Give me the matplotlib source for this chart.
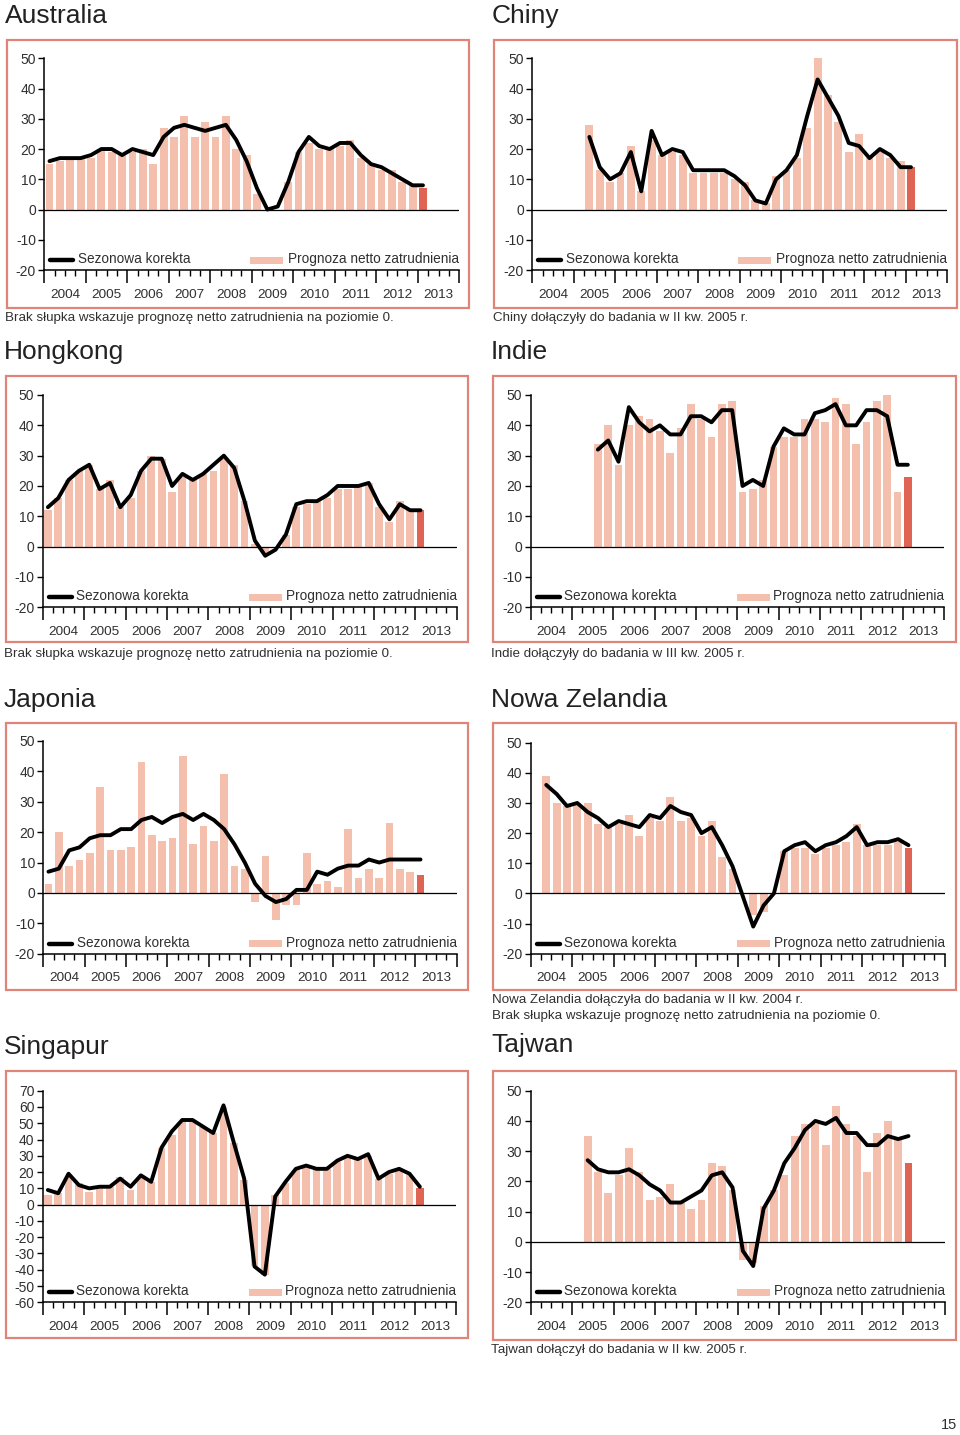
import matplotlib
matplotlib.use('Agg')
import matplotlib.pyplot as plt
import numpy as np
from matplotlib.patches import Rectangle
from matplotlib.lines import Line2D

plt.rcParams['font.family'] = ['Liberation Sans', 'DejaVu Sans']

W, H = 960, 1435
nan = np.nan

years = ['2004', '2005', '2006', '2007', '2008', '2009', '2010', '2011', '2012', '2013']
legend_line = 'Sezonowa korekta'
legend_bar = 'Prognoza netto zatrudnienia'
note_zero = 'Brak słupka wskazuje prognozę netto zatrudnienia na poziomie 0.'

# Quarterly values 2004 Q1 .. 2013 Q1 (37 quarters); nan = not yet surveyed
australia_bars = [15, 16, 17, 17, 17, 20, 19, 18, 19, 20, 15, 27, 24, 31, 24, 29, 24, 31, 20, 18,
                  5, 0, 0, 9, 19, 22, 20, 20, 21, 23, 17, 15, 13, 13, 9, 8, 7]
australia_line = [16, 17, 17, 17, 18, 20, 20, 18, 20, 19, 18, 24, 27, 28, 27, 26, 27, 28, 23, 16,
                  7, 0, 1, 9, 19, 24, 21, 20, 22, 22, 18, 15, 14, 12, 10, 8, 8]

chiny_bars = [nan] * 5 + [28, 13, 9, 12, 21, 6, 23, 18, 19, 18, 12, 12, 12, 12, 10, 9, 3, 2, 11, 13,
                          17, 27, 51, 38, 29, 19, 25, 17, 19, 17, 16, 14]
chiny_line = [nan] * 5 + [24, 14, 10, 12, 19, 6, 26, 18, 20, 19, 13, 13, 13, 13, 11, 8, 3, 2, 10, 13,
                          18, 31, 43, 37, 31, 22, 21, 17, 20, 18, 14, 14]

hongkong_bars = [12, 16, 22, 25, 27, 19, 22, 13, 16, 25, 30, 29, 18, 23, 22, 24, 25, 29, 27, 15,
                 1, -2, 0, 4, 13, 14, 15, 16, 19, 19, 20, 21, 13, 8, 15, 12, 12]
hongkong_line = [13, 16, 22, 25, 27, 19, 21, 13, 17, 25, 29, 29, 20, 24, 22, 24, 27, 30, 26, 15,
                 2, -3, -1, 4, 14, 15, 15, 17, 20, 20, 20, 21, 14, 9, 14, 12, 12]

indie_bars = [nan] * 6 + [34, 40, 27, 40, 43, 42, 38, 31, 39, 47, 42, 36, 47, 48, 18, 19, 22, 33, 36,
                          36, 42, 42, 41, 49, 47, 34, 41, 48, 53, 18, 23]
indie_line = [nan] * 6 + [32, 35, 28, 46, 41, 38, 40, 37, 37, 43, 43, 41, 45, 45, 20, 22, 20, 33, 39,
                          37, 37, 44, 45, 47, 40, 40, 45, 45, 43, 27, 27]

japonia_bars = [3, 20, 9, 11, 13, 35, 14, 14, 15, 43, 19, 17, 18, 45, 16, 22, 17, 39, 9, 8,
                -3, 12, -9, -4, -4, 13, 3, 4, 2, 21, 5, 8, 5, 23, 8, 7, 6]
japonia_line = [7, 8, 14, 15, 18, 19, 19, 21, 21, 24, 25, 23, 25, 26, 24, 26, 24, 21, 16, 10,
                3, -1, -3, -2, 1, 1, 7, 6, 8, 9, 9, 11, 10, 11, 11, 11, 11]

nz_bars = [nan] + [39, 30, 29, 30, 30, 23, 22, 23, 26, 19, 25, 24, 32, 24, 25, 19, 24, 12, 8,
                   0, -7, -6, 0, 14, 15, 15, 13, 15, 16, 17, 23, 16, 16, 16, 17, 15]
nz_line = [nan] + [36, 33, 29, 30, 27, 25, 22, 24, 23, 22, 26, 25, 29, 27, 26, 20, 22, 16, 9,
                   -1, -11, -4, 0, 14, 16, 17, 14, 16, 17, 19, 22, 16, 17, 17, 18, 16]

singapur_bars = [6, 7, 17, 13, 8, 10, 11, 17, 9, 17, 14, 35, 43, 51, 51, 48, 44, 60, 38, 15,
                 -38, -43, 6, 13, 21, 23, 21, 22, 26, 29, 28, 30, 16, 19, 21, 18, 10]
singapur_line = [9, 7, 19, 12, 10, 11, 11, 16, 11, 18, 14, 35, 45, 52, 52, 48, 44, 61, 38, 16,
                 -38, -43, 5, 14, 22, 24, 22, 22, 27, 30, 28, 31, 16, 20, 22, 19, 11]

tajwan_bars = [nan] * 5 + [35, 23, 16, 22, 31, 23, 14, 15, 19, 13, 11, 14, 26, 25, 17, -6, -7, 12,
                           17, 22, 35, 39, 39, 32, 45, 39, 35, 23, 36, 40, 34, 26]
tajwan_line = [nan] * 5 + [27, 24, 23, 23, 24, 22, 19, 17, 13, 13, 15, 17, 22, 23, 18, -3, -8, 11,
                           17, 26, 31, 37, 40, 39, 41, 36, 36, 32, 32, 35, 34, 35]

yt_std = [-20, -10, 0, 10, 20, 30, 40, 50]
yt_sg = [-60, -50, -40, -30, -20, -10, 0, 10, 20, 30, 40, 50, 60, 70]

PINK = '#f5bfae'
RED = '#e06453'
BOX = '#de8478'
TXT = '#303030'

fig = plt.figure(figsize=(W / 100, H / 100), dpi=100)


def fx(x):
    return x / W


def fy(y):
    return 1 - y / H


panels = [
    dict(title='Australia', txy=(5, 16), box=(7, 40, 469, 308), ax=(44.3, 459.3, 58.3, 270),
         yt=yt_std, bars=australia_bars, line=australia_line, notes=[(5, 318, note_zero)]),
    dict(title='Chiny', txy=(492, 16), box=(494, 40, 957, 308), ax=(532.3, 947.3, 58.3, 270),
         yt=yt_std, bars=chiny_bars, line=chiny_line,
         notes=[(493, 318, 'Chiny dołączyły do badania w II kw. 2005 r.')]),
    dict(title='Hongkong', txy=(4, 352), box=(6, 376, 468, 642), ax=(42.7, 456.7, 395, 607.3),
         yt=yt_std, bars=hongkong_bars, line=hongkong_line, notes=[(4, 654, note_zero)]),
    dict(title='Indie', txy=(491, 352), box=(493, 376, 956, 642), ax=(530.7, 944.0, 395, 607.3),
         yt=yt_std, bars=indie_bars, line=indie_line,
         notes=[(491, 654, 'Indie dołączyły do badania w III kw. 2005 r.')]),
    dict(title='Japonia', txy=(4, 700), box=(6, 723, 468, 990), ax=(43.3, 456.7, 741, 953.7),
         yt=yt_std, bars=japonia_bars, line=japonia_line, notes=[]),
    dict(title='Nowa Zelandia', txy=(491, 700), box=(493, 723, 956, 990), ax=(530.7, 944.7, 742.7, 953.7),
         yt=yt_std, bars=nz_bars, line=nz_line,
         notes=[(492, 1000, 'Nowa Zelandia dołączyła do badania w II kw. 2004 r.'),
                (492, 1016, note_zero)]),
    dict(title='Singapur', txy=(4, 1047), box=(6, 1071, 468, 1338), ax=(42.7, 456.0, 1090.7, 1302.3),
         yt=yt_sg, bars=singapur_bars, line=singapur_line, notes=[]),
    dict(title='Tajwan', txy=(491, 1045), box=(493, 1071, 956, 1340), ax=(530.7, 944.7, 1090.7, 1302.3),
         yt=yt_std, bars=tajwan_bars, line=tajwan_line,
         notes=[(491, 1350, 'Tajwan dołączył do badania w II kw. 2005 r.')]),
]

for p in panels:
    # red frame
    x0, y0, x1, y1 = p['box']
    fig.add_artist(Rectangle((fx(x0), fy(y1)), fx(x1) - fx(x0), fy(y0) - fy(y1),
                             transform=fig.transFigure, fill=False, edgecolor=BOX, lw=1.6))
    # title
    fig.text(fx(p['txy'][0]), fy(p['txy'][1]), p['title'], fontsize=19, color='#222222',
             ha='left', va='center')
    for (nx, ny, nt) in p['notes']:
        fig.text(fx(nx), fy(ny), nt, fontsize=9.6, color=TXT, ha='left', va='center')

    l, r, t, b = p['ax']
    ax = fig.add_axes([fx(l), fy(b), fx(r) - fx(l), fy(t) - fy(b)])
    bars = np.array(p['bars'], dtype=float)
    line = np.array(p['line'], dtype=float)
    n = len(bars)
    xs = np.arange(n) + 0.5
    colors = [PINK] * (n - 1) + [RED]
    ax.bar(xs, np.nan_to_num(bars), width=0.76, color=colors, zorder=2)
    ax.axhline(0, color='black', lw=0.9, zorder=3)
    ax.plot(xs, line, color='black', lw=2.8, solid_joinstyle='round', solid_capstyle='round', zorder=4)

    yt = p['yt']
    ax.set_xlim(0, 40)
    ax.set_ylim(yt[0], yt[-1])
    for s in ('top', 'right'):
        ax.spines[s].set_visible(False)
    for s in ('left', 'bottom'):
        ax.spines[s].set_linewidth(1.1)
        ax.spines[s].set_color('black')
    ax.set_yticks(yt)
    ax.set_yticklabels([str(v) for v in yt])
    ax.tick_params(axis='y', direction='out', length=4, width=1, labelsize=10,
                   labelcolor=TXT, pad=2)
    ax.set_xticks(np.arange(0, 41, 4))
    ax.set_xticks(np.arange(0, 41, 1), minor=True)
    ax.set_xticklabels([])
    ax.tick_params(axis='x', which='major', direction='out', length=9, width=1.1)
    ax.tick_params(axis='x', which='minor', direction='out', length=4.5, width=1)
    ax.patch.set_alpha(0)

    ph = b - t
    for k, yr in enumerate(years):
        ax.text(4 * k + 2, -24.5 / ph, yr, transform=ax.get_xaxis_transform(),
                ha='center', va='center', fontsize=9.7, color=TXT)

    # legend drawn inside the plot area
    ly = 10 / ph
    pw = r - l
    ax.add_line(Line2D([6 / pw, 29 / pw], [ly, ly], transform=ax.transAxes, color='black',
                       lw=3.2, solid_capstyle='round'))
    ax.text(33.5 / pw, ly + 0.004, legend_line, transform=ax.transAxes, ha='left', va='center',
            fontsize=9.8, color=TXT)
    ax.add_patch(Rectangle((206 / pw, ly - 3.5 / ph), 33 / pw, 7 / ph, transform=ax.transAxes,
                           color=PINK, lw=0))
    ax.text(1.0, ly + 0.004, legend_bar, transform=ax.transAxes, ha='right', va='center',
            fontsize=9.8, color=TXT)

fig.text(fx(957), fy(1425), '15', fontsize=10.5, color=TXT, ha='right', va='center')

fig.savefig('out.png', dpi=100, facecolor='white')
